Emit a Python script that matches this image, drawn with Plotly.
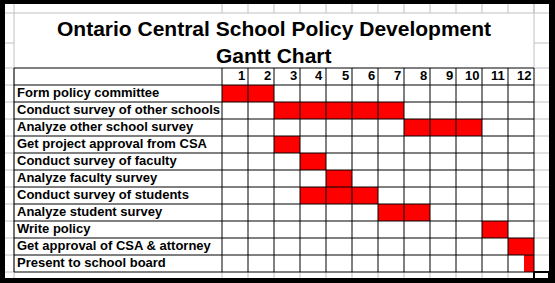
import plotly.graph_objects as go

# ---------------- data ----------------
tasks = [
    "Form policy committee",
    "Conduct survey of other schools",
    "Analyze other school survey",
    "Get project approval from CSA",
    "Conduct survey of faculty",
    "Analyze faculty survey",
    "Conduct survey of students",
    "Analyze student survey",
    "Write policy",
    "Get approval of CSA & attorney",
    "Present to school board",
]
start_period = [1, 3, 8, 3, 4, 5, 4, 7, 11, 12, 12.6]
duration = [2, 5, 3, 1, 1, 1, 3, 2, 1, 1, 0.4]
periods = [1, 2, 3, 4, 5, 6, 7, 8, 9, 10, 11, 12]
title_line1 = "Ontario Central School Policy Development"
title_line2 = "Gantt Chart"

# ---------------- geometry (pixel layout of the sheet) ----------------
W, H = 555, 283
X0, CW = 222, 26      # pixel of period-grid left edge, column width
Y0, RH = 85, 17       # pixel of first task row top, row height

def dx(px):
    return (px - X0) / CW

def dy(py):
    return (py - Y0) / RH

n_p = len(periods)
n_t = len(tasks)
label_left = -8       # task-name column spans 8 period widths
colA_left = dx(5)
colO_right = dx(549)
sheet_top = dy(4)
row1_bottom = dy(13)
title_split = dy(43)
header_top = -1
sheet_bottom = dy(278)

FONT = "Liberation Sans, Arial, sans-serif"
GRAY = "#c0c0c0"

fig = go.Figure()

# Gantt bars
fig.add_trace(go.Bar(
    orientation="h",
    y=[i + 0.5 for i in range(n_t)],
    x=duration,
    base=[s - 1 for s in start_period],
    width=1,
    marker=dict(color="#ff0000", line=dict(width=0)),
    hoverinfo="skip",
    showlegend=False,
))

shapes = []

def line(x0, y0, x1, y1, color, w=1):
    shapes.append(dict(type="line", xref="x", yref="y", x0=x0, y0=y0, x1=x1, y1=y1,
                       line=dict(color=color, width=w), layer="above"))

# ---- Excel gray gridlines outside the table ----
line(label_left, sheet_top, label_left, sheet_bottom, GRAY)
for k in range(0, n_p + 1):
    line(k, sheet_top, k, row1_bottom, GRAY)
    line(k, n_t, k, sheet_bottom, GRAY)
line(n_p, sheet_top, n_p, header_top, GRAY)
line(colA_left, row1_bottom, colO_right, row1_bottom, GRAY)
line(colA_left, title_split, label_left, title_split, GRAY)
line(n_p, title_split, colO_right, title_split, GRAY)
for r in range(-1, n_t + 1):
    line(colA_left, r, label_left, r, GRAY)
    line(n_p, r, colO_right, r, GRAY)

# ---- table black borders ----
for k in [label_left] + list(range(0, n_p + 1)):
    line(k, header_top, k, n_t, "#000000")
for r in range(-1, n_t + 1):
    line(label_left, r, n_p, r, "#000000")

# cell cursor at bottom-right
shapes.append(dict(type="rect", xref="x", yref="y", x0=n_p, y0=n_t, x1=colO_right, y1=dy(279),
                   line=dict(color="#000000", width=2), fillcolor="rgba(0,0,0,0)", layer="above"))

# ---- black frame of the screenshot ----
for (x0, y0, x1, y1) in [(0, 0, 5, H), (0, 0, W, 4), (549, 0, W, H), (0, 278, W, H)]:
    shapes.append(dict(type="rect", xref="paper", yref="paper",
                       x0=x0 / W, x1=x1 / W, y0=1 - y1 / H, y1=1 - y0 / H,
                       fillcolor="#000000", line=dict(width=0), layer="above"))

annotations = []
annotations.append(dict(x=(label_left + n_p) / 2, y=dy(28), xref="x", yref="y",
                        text="<b>%s</b>" % title_line1, showarrow=False,
                        font=dict(family=FONT, size=21, color="#000000"),
                        xanchor="center", yanchor="middle"))
annotations.append(dict(x=(label_left + n_p) / 2, y=dy(55.5), xref="x", yref="y",
                        text="<b>%s</b>" % title_line2, showarrow=False,
                        font=dict(family=FONT, size=21, color="#000000"),
                        xanchor="center", yanchor="middle"))
for k in periods:
    annotations.append(dict(x=k, y=-0.5, xref="x", yref="y", text="<b>%d</b>" % k,
                            showarrow=False, font=dict(family=FONT, size=13, color="#000000"),
                            xanchor="right", yanchor="middle", xshift=-1, yshift=1))
for i, t in enumerate(tasks):
    annotations.append(dict(x=label_left, y=i + 0.5, xref="x", yref="y", text="<b>%s</b>" % t,
                            showarrow=False, font=dict(family=FONT, size=13, color="#000000"),
                            xanchor="left", yanchor="middle", xshift=1, yshift=1))

fig.update_layout(
    width=W, height=H,
    margin=dict(l=0, r=0, t=0, b=0, pad=0),
    paper_bgcolor="#ffffff", plot_bgcolor="#ffffff",
    xaxis=dict(range=[dx(0), dx(W)], visible=False, fixedrange=True),
    yaxis=dict(range=[dy(H), dy(0)], visible=False, fixedrange=True),
    shapes=shapes, annotations=annotations,
    showlegend=False, hovermode=False, bargap=0,
)

fig.write_html("out.html", config={"displayModeBar": False, "staticPlot": True})
